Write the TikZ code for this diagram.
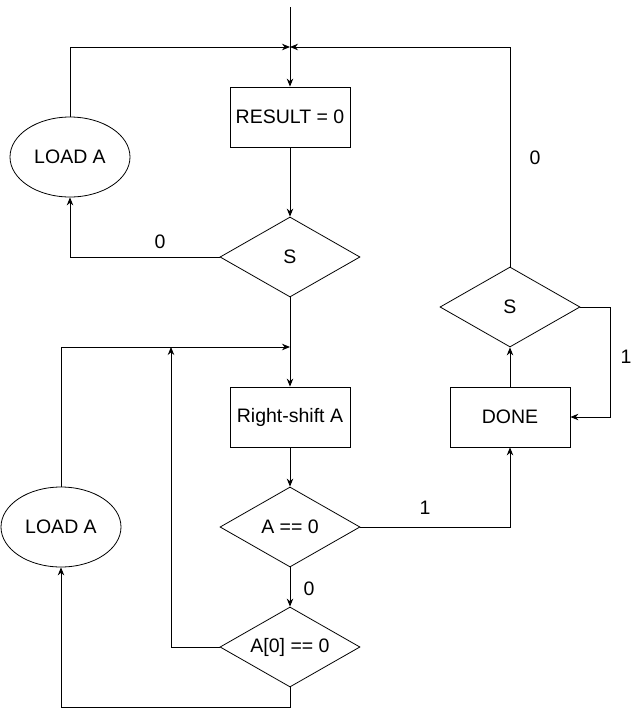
\documentclass[tikz,border=0pt]{standalone}
\usepackage{fontspec}
\setmainfont{Liberation Sans}
\usetikzlibrary{shapes.geometric,arrows.meta}

\tikzset{
  box/.style={draw, line width=0.8pt, minimum width=120pt, minimum height=60pt, inner sep=0pt},
  test/.style={draw, diamond, aspect=1.75, line width=0.8pt, minimum width=140pt, minimum height=80pt, inner sep=0pt},
  load/.style={draw, ellipse, line width=0.8pt, minimum width=120pt, minimum height=80pt, inner sep=0pt},
  flow/.style={line width=0.9pt, -{Stealth[length=8pt,width=6.5pt]}},
  lbl/.style={inner sep=0pt}
}

\begin{document}
\begin{tikzpicture}[x=1pt,y=-1pt,font=\fontsize{19.5}{23}\selectfont]
\useasboundingbox (0,0) rectangle (643,716);

% Helper points
\coordinate (start) at (290,7);
\coordinate (join1) at (290,47);
\coordinate (join2) at (290,347);
\coordinate (join3) at (171,347);
\coordinate (turn) at (610,307);
\coordinate (low) at (290,707);

% Upper part
\node[box] (result) at (290,117) {RESULT = 0};
\node[test] (s1) at (290,257) {S};
\node[load] (load1) at (70,157) {LOAD A};

% Lower part
\node[box] (shift) at (290,417) {Right-shift A};
\node[test] (zero) at (290,527) {A == 0};
\node[test] (bit) at (290,647) {A[0] == 0};
\node[load] (load2) at (61,527) {LOAD A};

% Right part
\node[box] (done) at (510,417) {DONE};
\node[test] (s2) at (510,307) {S};

% Connectors
\draw[flow] (start) -- (result);
\draw[flow] (load1.north) |- (join1);
\draw[flow] (s2.north) |- (join1);
\draw[flow] (result) -- (s1);
\draw[flow] (s1.west) -| (load1.south);
\draw[flow] (s1) -- (shift);
\draw[flow] (load2.north) |- (join2);
\draw[flow] (bit.west) -| (join3);
\draw[flow] (shift) -- (zero);
\draw[flow] (zero) -- (bit);
\draw[flow] (zero.east) -| (done.south);
\draw[flow] (done) -- (s2);
\draw[flow] (s2.east) -- (turn) |- (done.east);
\draw[flow] (bit.south) -- (low) -| (load2.south);

% Branch labels
\node[lbl] (l1) at (160,242) {0};
\node[lbl] (l2) at (535,158) {0};
\node[lbl] (l3) at (425,508) {1};
\node[lbl] (l4) at (626,357) {1};
\node[lbl] (l5) at (309,589) {0};

\end{tikzpicture}
\end{document}
